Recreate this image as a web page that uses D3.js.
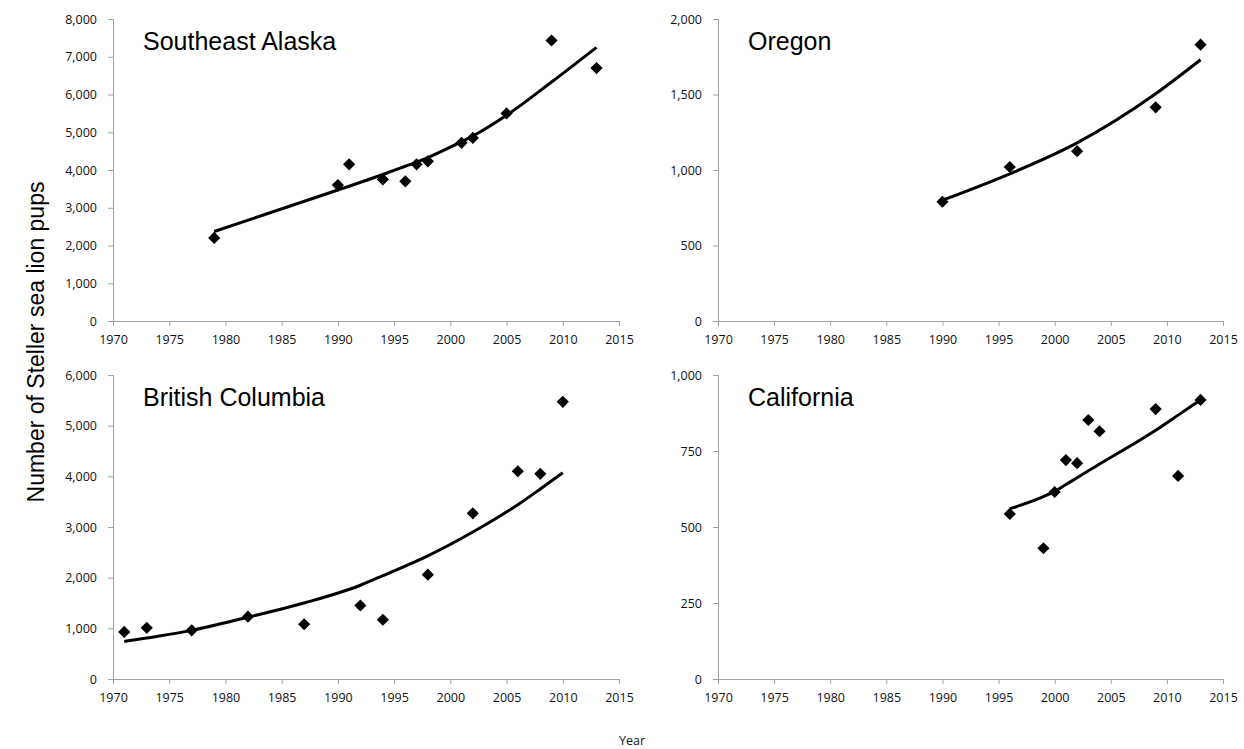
<!DOCTYPE html>
<html lang="en">
<head>
    <meta charset="UTF-8">
    <title>Steller sea lion pups</title>
    <script src="https://cdnjs.cloudflare.com/ajax/libs/d3/7.8.5/d3.min.js"></script>
    <style>
        body { margin: 0; background: #fff; }
        .axis path, .axis line { stroke: #a0a0a0; }
        .axis text { font-family: "Open Sans", sans-serif; font-size: 12.5px; fill: #111; }
        .panel-title { font-family: "Liberation Sans", Arial, sans-serif; font-size: 25px; fill: #000; }
        .axis-title { font-family: "Liberation Sans", Arial, sans-serif; font-size: 23px; fill: #000; }
        .x-title { font-family: "Open Sans", sans-serif; font-size: 12.5px; fill: #111; }
    </style>
</head>
<body>
<svg width="1244" height="749"></svg>

<script>
    // Survey counts (diamonds) and fitted trend (line) per region
    const seAlaskaYears = [1979, 1990, 1991, 1994, 1996, 1997, 1998, 2001, 2002, 2005, 2009, 2013];
    const seAlaskaPups  = [2200, 3600, 4150, 3750, 3700, 4150, 4230, 4720, 4850, 5500, 7430, 6700];
    const seAlaskaTrend = [2370, 3470, 3570, 3880, 4100, 4210, 4330, 4750, 4900, 5450, 6330, 7250];

    const oregonYears = [1990, 1996, 2002, 2009, 2013];
    const oregonPups  = [790, 1020, 1125, 1415, 1830];
    const oregonTrend = [800, 975, 1180, 1505, 1730];

    const bcYears = [1971, 1973, 1977, 1982, 1987, 1992, 1994, 1998, 2002, 2006, 2008, 2010];
    const bcPups  = [930, 1010, 960, 1230, 1080, 1450, 1170, 2060, 3270, 4100, 4050, 5470];
    const bcTrend = [740, 810, 960, 1220, 1500, 1850, 2040, 2430, 2900, 3440, 3750, 4070];

    const californiaYears = [1996, 1999, 2000, 2001, 2002, 2003, 2004, 2009, 2011, 2013];
    const californiaPups  = [543, 430, 615, 720, 710, 852, 815, 888, 668, 918];
    const californiaTrend = [560, 600, 617, 640, 662, 685, 707, 818, 868, 918];

    // Axis ticks
    const yearTicks = [1970, 1975, 1980, 1985, 1990, 1995, 2000, 2005, 2010, 2015];
    const seAlaskaTicks = [0, 1000, 2000, 3000, 4000, 5000, 6000, 7000, 8000];
    const oregonTicks = [0, 500, 1000, 1500, 2000];
    const bcTicks = [0, 1000, 2000, 3000, 4000, 5000, 6000];
    const californiaTicks = [0, 250, 500, 750, 1000];

    // Panel placement in pixels
    const panels = [
        { name: "Southeast Alaska", years: seAlaskaYears, pups: seAlaskaPups, trend: seAlaskaTrend, ticks: seAlaskaTicks,
          left: 113, right: 619, top: 19, bottom: 321 },
        { name: "Oregon", years: oregonYears, pups: oregonPups, trend: oregonTrend, ticks: oregonTicks,
          left: 718, right: 1223, top: 19, bottom: 321 },
        { name: "British Columbia", years: bcYears, pups: bcPups, trend: bcTrend, ticks: bcTicks,
          left: 113, right: 619, top: 375, bottom: 679 },
        { name: "California", years: californiaYears, pups: californiaPups, trend: californiaTrend, ticks: californiaTicks,
          left: 718, right: 1223, top: 375, bottom: 679 }
    ];

    const svg = d3.select("svg");
    const diamond = d3.symbol().type(d3.symbolSquare).size(74);

    panels.forEach(p => {
        const x = d3.scaleLinear().domain([1970, 2015]).range([p.left, p.right]);
        const y = d3.scaleLinear().domain([0, d3.max(p.ticks)]).range([p.bottom, p.top]);
        const g = svg.append("g");

        g.append("g")
            .attr("class", "axis")
            .attr("transform", `translate(0,${p.bottom})`)
            .call(d3.axisBottom(x).tickValues(yearTicks).tickFormat(d3.format("d"))
                .tickSize(5).tickSizeOuter(5).tickPadding(9));

        g.append("g")
            .attr("class", "axis")
            .attr("transform", `translate(${p.left},0)`)
            .call(d3.axisLeft(y).tickValues(p.ticks).tickFormat(d3.format(","))
                .tickSize(5).tickSizeOuter(5).tickPadding(11));

        // trend line through fitted values, smoothed like the spreadsheet line
        const pts = p.years.map((yr, i) => [yr, p.trend[i]]);
        g.append("path")
            .datum(pts)
            .attr("fill", "none")
            .attr("stroke", "#000")
            .attr("stroke-width", 3)
            .attr("stroke-linejoin", "round")
            .attr("d", d3.line().curve(d3.curveMonotoneX).x(d => x(d[0])).y(d => y(d[1])));

        // survey counts
        g.selectAll(".pt")
            .data(p.years.map((yr, i) => [yr, p.pups[i]]))
            .enter()
            .append("path")
            .attr("class", "pt")
            .attr("d", diamond)
            .attr("fill", "#000")
            .attr("transform", d => `translate(${x(d[0])},${y(d[1])}) rotate(45)`);

        g.append("text")
            .attr("class", "panel-title")
            .attr("x", p.left + 30)
            .attr("y", p.top + 31)
            .text(p.name);
    });

    // Shared axis titles
    svg.append("text")
        .attr("class", "axis-title")
        .attr("transform", "translate(44,342) rotate(-90)")
        .attr("text-anchor", "middle")
        .text("Number of Steller sea lion pups");

    svg.append("text")
        .attr("class", "x-title")
        .attr("x", 632)
        .attr("y", 745)
        .attr("text-anchor", "middle")
        .text("Year");
</script>
</body>
</html>
